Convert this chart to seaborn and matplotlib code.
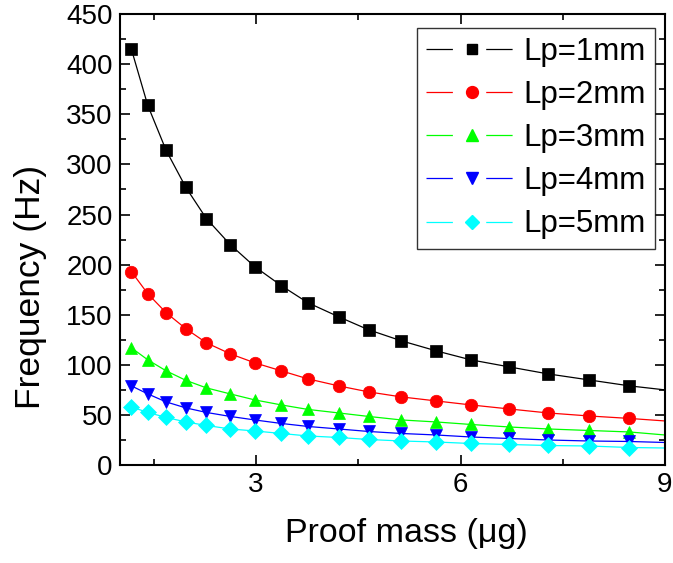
import matplotlib
matplotlib.use("Agg")
import matplotlib.pyplot as plt
import seaborn as sns
import pandas as pd
from matplotlib.lines import Line2D
from matplotlib.legend_handler import HandlerTuple
from matplotlib.ticker import MultipleLocator

# Data
mass = [1.17, 1.41, 1.68, 1.97, 2.27, 2.62, 2.98, 3.37, 3.76, 4.21,
        4.65, 5.13, 5.64, 6.15, 6.71, 7.28, 7.88, 8.48, 9.0]
f_lp1 = [415, 359, 314, 277, 246, 220, 198, 179, 162, 148,
         135, 124, 114, 105, 98, 91, 85, 79, 75]
f_lp2 = [193, 171, 152, 136, 122, 111, 102, 94, 86, 79,
         73, 68, 64, 60, 56, 52, 49, 46.5, 44]
f_lp3 = [117, 105, 94, 84.5, 77, 71, 65, 60, 55.5, 52,
         48.5, 45, 43, 40.5, 38, 36, 34.5, 33, 30]
f_lp4 = [79, 71, 63, 57, 52.5, 48.5, 45, 41.5, 38.5, 36,
         33.5, 31.5, 30, 28, 26.5, 25, 24, 23.5, 22.5]
f_lp5 = [58, 52.5, 47.5, 43, 39.5, 36, 34, 31.5, 29, 27.5,
         25.5, 24, 23, 21.5, 20.5, 19.5, 19, 17.5, 17]
labels = ["Lp=1mm", "Lp=2mm", "Lp=3mm", "Lp=4mm", "Lp=5mm"]

series = [f_lp1, f_lp2, f_lp3, f_lp4, f_lp5]
colors = ["#000000", "#FF0000", "#00FF00", "#0000FF", "#00FFFF"]
markers = ["s", "o", "^", "v", "D"]
msizes = [8, 9, 9, 9, 8]

sns.set_style("ticks")
plt.rcParams["font.family"] = ["Liberation Sans", "DejaVu Sans"]
plt.rcParams["lines.scale_dashes"] = False
plt.rcParams["text.color"] = "black"
plt.rcParams["axes.labelcolor"] = "black"
plt.rcParams["xtick.color"] = "black"
plt.rcParams["ytick.color"] = "black"

fig = plt.figure(figsize=(6.73, 5.63), dpi=100)
ax = fig.add_axes([0.178, 0.174, 0.810, 0.801])

n_mark = len(mass) - 1
handles = []
for ys, lab, c, m, ms in zip(series, labels, colors, markers, msizes):
    df = pd.DataFrame({"mass": mass, "freq": ys})
    sns.lineplot(data=df, x="mass", y="freq", ax=ax, color=c, lw=0.9,
                 marker=m, markersize=ms, markeredgecolor=c,
                 markeredgewidth=0.5, markevery=list(range(n_mark)),
                 legend=False)
    hl = Line2D([], [], color=c, lw=0.9, linestyle=(0, (19, 24, 19, 100)))
    hm = Line2D([], [], color=c, lw=0, marker=m, markersize=ms * 0.95,
                markeredgecolor=c)
    handles.append((hl, hm))

ax.set_xlim(1, 9)
ax.set_ylim(0, 450)
ax.xaxis.set_major_locator(MultipleLocator(3))
ax.xaxis.set_minor_locator(MultipleLocator(1.5))
ax.yaxis.set_major_locator(MultipleLocator(50))
ax.yaxis.set_minor_locator(MultipleLocator(25))
ax.tick_params(which="both", direction="in", top=True, right=True,
               width=1.2, colors="black", labelcolor="black")
ax.tick_params(which="major", length=7, labelsize=20, pad=5)
ax.tick_params(which="minor", length=4)
for sp in ax.spines.values():
    sp.set_linewidth(1.5)
    sp.set_color("black")

ax.set_xlabel("Proof mass (\u03bcg)", fontsize=24.5)
ax.set_ylabel("Frequency (Hz)", fontsize=25.5)
ax.xaxis.set_label_coords(0.526, -0.118)
ax.yaxis.set_label_coords(-0.133, 0.395)

leg = ax.legend(handles, labels, handler_map={tuple: HandlerTuple(ndivide=1, pad=0)},
                loc="upper right", bbox_to_anchor=(0.982, 0.97), fontsize=22.5,
                frameon=True, fancybox=False, edgecolor="black",
                handlelength=2.9, handletextpad=0.2, labelspacing=0.42,
                borderpad=0.3, borderaxespad=0)
leg.get_frame().set_linewidth(1.0)
for t in leg.get_texts():
    t.set_color("black")

fig.savefig("out.png", dpi=100)
